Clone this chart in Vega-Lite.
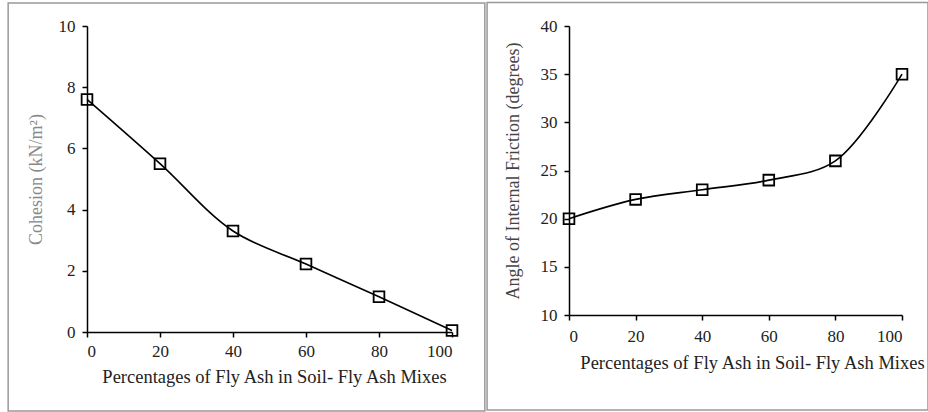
{
  "$schema": "https://vega.github.io/schema/vega-lite/v6.json",
  "background": "white",
  "padding": {"left": 7, "top": 1, "right": 0, "bottom": 0},
  "spacing": 0,
  "config": {
    "view": {"stroke": null},
    "font": "Liberation Serif",
    "axis": {
      "grid": false,
      "domainColor": "#000",
      "domainWidth": 1.5,
      "tickColor": "#000",
      "tickWidth": 1.5,
      "tickSize": 5,
      "labelFont": "Liberation Serif",
      "labelFontSize": 17,
      "labelColor": "#222",
      "titleFont": "Liberation Serif",
      "titleFontSize": 18,
      "titleFontWeight": "normal",
      "titleColor": "#222"
    }
  },
  "datasets": {
    "cohesion": [
      {"pct": 0, "val": 7.6},
      {"pct": 20, "val": 5.5},
      {"pct": 40, "val": 3.3},
      {"pct": 60, "val": 2.22},
      {"pct": 80, "val": 1.15},
      {"pct": 100, "val": 0.05}
    ],
    "friction": [
      {"pct": 0, "val": 20},
      {"pct": 20, "val": 22},
      {"pct": 40, "val": 23},
      {"pct": 60, "val": 24},
      {"pct": 80, "val": 26},
      {"pct": 100, "val": 35}
    ],
    "frameL": [{"x0": -21.6, "x1": 109.0, "y0": -2.58, "y1": 10.75}],
    "frameR": [{"x0": -24.6, "x1": 107.8, "y0": 0.14, "y1": 42.45}]
  },
  "hconcat": [
    {
      "width": 365,
      "height": 306,
      "layer": [
        {
          "data": {"name": "frameL"},
          "mark": {"type": "rect", "fill": null, "stroke": "#999", "strokeWidth": 1.5, "clip": false},
          "encoding": {
            "x": {"field": "x0", "type": "quantitative", "scale": {"domain": [0, 100], "nice": false}},
            "x2": {"field": "x1"},
            "y": {"field": "y0", "type": "quantitative", "scale": {"domain": [0, 10], "nice": false}},
            "y2": {"field": "y1"}
          }
        },
        {
          "data": {"name": "cohesion"},
          "mark": {"type": "line", "interpolate": "catmull-rom", "color": "#000", "strokeWidth": 1.6},
          "encoding": {
            "x": {"field": "pct", "type": "quantitative", "scale": {"domain": [0, 100], "nice": false},
              "axis": {"values": [0, 20, 40, 60, 80, 100], "title": "Percentages of Fly Ash in Soil- Fly Ash Mixes", "titleX": 187, "titlePadding": 8, "labelPadding": 6, "labelFontSize": 17, "titleFontSize": 18.5}},
            "y": {"field": "val", "type": "quantitative", "scale": {"domain": [0, 10], "nice": false},
              "axis": {"values": [0, 2, 4, 6, 8, 10], "title": "Cohesion (kN/m²)", "titleColor": "#888", "titlePadding": 13, "labelPadding": 7, "labelFontSize": 17, "titleFontSize": 18}}
          }
        },
        {
          "data": {"name": "cohesion"},
          "mark": {"type": "point", "shape": "square", "filled": false, "color": "#000", "size": 115, "strokeWidth": 1.8, "opacity": 1},
          "encoding": {
            "x": {"field": "pct", "type": "quantitative"},
            "y": {"field": "val", "type": "quantitative"}
          }
        }
      ]
    },
    {
      "width": 333,
      "height": 289,
      "layer": [
        {
          "data": {"name": "frameR"},
          "mark": {"type": "rect", "fill": null, "stroke": "#999", "strokeWidth": 1.5, "clip": false},
          "encoding": {
            "x": {"field": "x0", "type": "quantitative", "scale": {"domain": [0, 100], "nice": false}},
            "x2": {"field": "x1"},
            "y": {"field": "y0", "type": "quantitative", "scale": {"domain": [10, 40], "nice": false}},
            "y2": {"field": "y1"}
          }
        },
        {
          "data": {"name": "friction"},
          "mark": {"type": "line", "interpolate": "catmull-rom", "color": "#000", "strokeWidth": 1.6},
          "encoding": {
            "x": {"field": "pct", "type": "quantitative", "scale": {"domain": [0, 100], "nice": false},
              "axis": {"values": [0, 20, 40, 60, 80, 100], "title": "Percentages of Fly Ash in Soil- Fly Ash Mixes", "titleX": 183, "titlePadding": 9, "labelPadding": 8, "labelFontSize": 17, "titleFontSize": 18.5}},
            "y": {"field": "val", "type": "quantitative", "scale": {"domain": [10, 40], "nice": false},
              "axis": {"values": [10, 15, 20, 25, 30, 35, 40], "title": "Angle of Internal Friction (degrees)", "titleColor": "#444", "titlePadding": 18, "labelPadding": 7, "labelFontSize": 17, "titleFontSize": 18}}
          }
        },
        {
          "data": {"name": "friction"},
          "mark": {"type": "point", "shape": "square", "filled": false, "color": "#000", "size": 115, "strokeWidth": 1.8, "opacity": 1},
          "encoding": {
            "x": {"field": "pct", "type": "quantitative"},
            "y": {"field": "val", "type": "quantitative"}
          }
        }
      ]
    }
  ]
}
